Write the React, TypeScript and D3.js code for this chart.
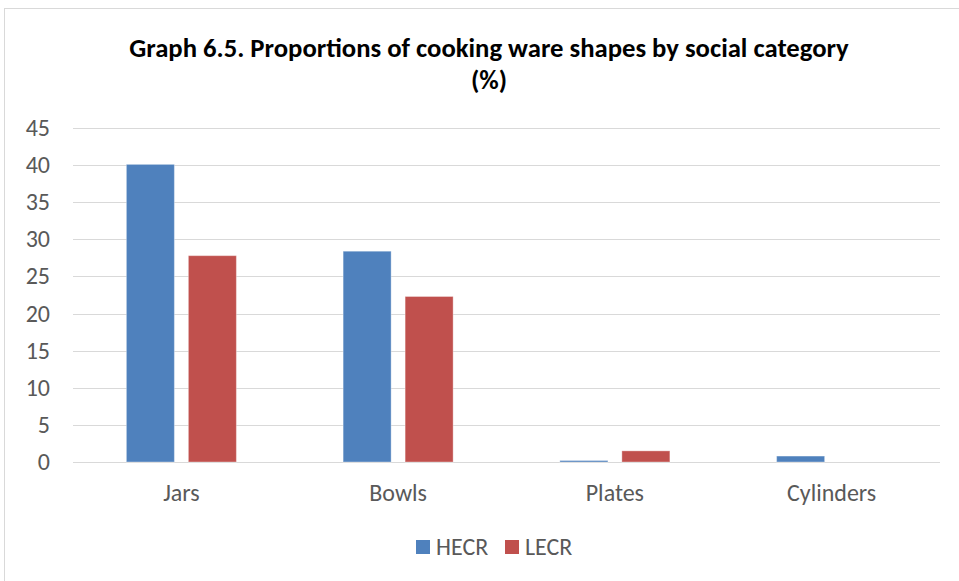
import React from "react";
import * as d3 from "d3";

const categories = ["Jars", "Bowls", "Plates", "Cylinders"];
const seriesNames = ["HECR", "LECR"];
const hecr = [40.1, 28.4, 0.2, 0.8];
const lecr = [27.8, 22.3, 1.5, 0];
const yTicks = [0, 5, 10, 15, 20, 25, 30, 35, 40, 45];
const colors = ["#4f81bd", "#c0504d"];
const titleLines = ["Graph 6.5. Proportions of cooking ware shapes by social category", "(%)"];

export default function App() {
  const W = 959, H = 581;
  const left = 73, right = 940, top = 128, bottom = 462;
  const x = d3.scaleBand<string>().domain(categories).range([left, right]).paddingInner(0).paddingOuter(0);
  const y = d3.scaleLinear().domain([0, 45]).range([bottom, top]);
  const bw = x.bandwidth();
  const barW = 48, gap = 14;
  const groupW = barW * 2 + gap;
  const x1 = d3.scaleOrdinal<string, number>().domain(seriesNames).range([(bw - groupW) / 2, (bw - groupW) / 2 + barW + gap]);
  const series = [hecr, lecr];
  const font = "Calibri, Carlito, 'Open Sans', sans-serif";
  return (
    <svg width={W} height={H} style={{ position: "absolute", left: 0, top: 0, background: "#fff" }}>
      <rect x={0} y={0} width={W} height={H} fill="#fff" />
      <rect x={4.5} y={8.5} width={W + 10} height={H + 10} fill="#fff" stroke="#d9d9d9" strokeWidth={1} />
      {titleLines.map((t, i) => (
        <text key={i} x={489} y={57 + i * 32} textAnchor="middle" fontFamily={font} fontWeight="bold" fontSize={26.7} fill="#000">
          {t}
        </text>
      ))}
      {yTicks.map((v) => (
        <g key={v}>
          <line x1={left} x2={right} y1={Math.round(y(v)) + 0.5} y2={Math.round(y(v)) + 0.5} stroke="#d9d9d9" strokeWidth={1} />
          <text x={50} y={y(v) + 8} textAnchor="end" fontFamily={font} fontSize={24} fill="#595959">{v}</text>
        </g>
      ))}
      {categories.map((c, ci) => (
        <g key={c}>
          {seriesNames.map((s, si) => {
            const v = series[si][ci];
            if (v <= 0) return null;
            return (
              <rect key={s} x={(x(c) as number) + x1(s)} y={y(v)} width={barW} height={y(0) - y(v)} fill={colors[si]} stroke="#ffffff" strokeOpacity={0.35} strokeWidth={1} />
            );
          })}
          <text x={(x(c) as number) + bw / 2} y={501} textAnchor="middle" fontFamily={font} fontSize={24} fill="#595959">{c}</text>
        </g>
      ))}
      {seriesNames.map((s, i) => {
        const lx = 416 + i * 89;
        return (
          <g key={s}>
            <rect x={lx} y={540} width={14} height={14} fill={colors[i]} />
            <text x={lx + 20} y={555} fontFamily={font} fontSize={24} fill="#595959">{s}</text>
          </g>
        );
      })}
    </svg>
  );
}
